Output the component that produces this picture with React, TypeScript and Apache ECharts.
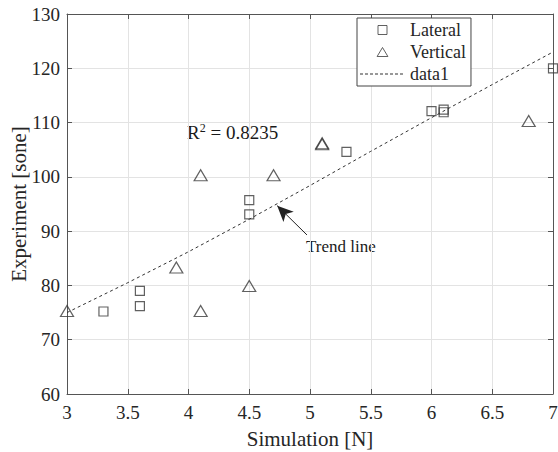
import React, { useEffect, useRef } from "react";
import * as echarts from "echarts";

const lateralX = [3.3, 3.6, 3.6, 4.5, 4.5, 5.3, 6.0, 6.1, 6.1, 7.0];
const lateralY = [75.2, 76.2, 79.0, 93.1, 95.7, 104.6, 112.1, 111.9, 112.4, 120.0];

const verticalX = [3.0, 3.9, 4.1, 4.1, 4.5, 4.7, 5.1, 5.1, 6.8];
const verticalY = [75.3, 83.3, 75.3, 100.3, 79.9, 100.3, 106.0, 106.2, 110.3];

const trendX = [3, 3.5, 4, 4.5, 5, 5.5, 6, 6.5, 7];
const trendY = [75.0, 80.5, 86.2, 92.2, 98.4, 104.7, 110.9, 117.0, 123.0];

const xTicks = [3, 3.5, 4, 4.5, 5, 5.5, 6, 6.5, 7];
const yTicks = [60, 70, 80, 90, 100, 110, 120, 130];

const arrowTail = [4.975, 89.3];
const arrowHead = [4.73, 94.7];

const FONT = "Liberation Serif";
const AXIS = "#555555";
const MARK = "#3a3a3a";

const SQUARE_ICON = "path://M0,0h10v10h-10z";
const TRIANGLE_ICON = "path://M6,0L12,10L0,10Z";
const DASH_ICON =
  "path://" +
  Array.from({ length: 9 }, (_, i) => `M${i * 5},0h3v1h-3z`).join("") +
  "M45,0h0.01v1h-0.01z";

export default function App() {
  const ref = useRef<HTMLDivElement>(null);
  useEffect(() => {
    if (!ref.current) return;
    const chart = echarts.init(ref.current, null, { renderer: "svg" });
    const zip = (xs: number[], ys: number[]) => xs.map((x, i) => [x, ys[i]]);
    const baseX = {
      type: "value",
      min: xTicks[0],
      max: xTicks[xTicks.length - 1],
      interval: 0.5,
      axisLine: { show: true, lineStyle: { color: AXIS, width: 1 } },
      axisTick: { show: true, inside: true, length: 5, lineStyle: { color: AXIS } },
    };
    const baseY = {
      type: "value",
      min: yTicks[0],
      max: yTicks[yTicks.length - 1],
      interval: 10,
      axisLine: { show: true, lineStyle: { color: AXIS, width: 1 } },
      axisTick: { show: true, inside: true, length: 5, lineStyle: { color: AXIS } },
    };
    chart.setOption({
      animation: false,
      backgroundColor: "#ffffff",
      grid: {
        left: 67,
        top: 14,
        right: 5,
        bottom: 58,
        containLabel: false,
        outerBoundsMode: "none",
      },
      xAxis: [
        {
          ...baseX,
          position: "bottom",
          name: "Simulation [N]",
          nameLocation: "middle",
          nameGap: 34,
          nameMoveOverlap: false,
          nameTextStyle: { fontFamily: FONT, fontSize: 21, color: "#262626" },
          axisLabel: {
            fontFamily: FONT,
            fontSize: 19,
            color: "#262626",
            margin: 9,
            formatter: (v: number) => String(v),
          },
          splitLine: { show: true, lineStyle: { color: "#e3e3e3", width: 1 } },
        },
        {
          ...baseX,
          position: "top",
          axisLabel: { show: false },
          splitLine: { show: false },
        },
      ],
      yAxis: [
        {
          ...baseY,
          position: "left",
          name: "Experiment [sone]",
          nameLocation: "middle",
          nameGap: 38,
          nameMoveOverlap: false,
          nameTextStyle: { fontFamily: FONT, fontSize: 21, color: "#262626" },
          axisLabel: { fontFamily: FONT, fontSize: 19, color: "#262626", margin: 7 },
          splitLine: { show: true, lineStyle: { color: "#e3e3e3", width: 1 } },
        },
        {
          ...baseY,
          position: "right",
          axisLabel: { show: false },
          splitLine: { show: false },
        },
      ],
      legend: {
        orient: "vertical",
        left: 357,
        top: 18,
        borderColor: "#444",
        borderWidth: 1,
        backgroundColor: "#ffffff",
        padding: [3, 5, 3, 3],
        itemWidth: 45,
        itemHeight: 9,
        itemGap: 4,
        symbolKeepAspect: true,
        textStyle: { fontFamily: FONT, fontSize: 18, color: "#262626" },
        data: [
          {
            name: "Lateral",
            icon: SQUARE_ICON,
            itemStyle: { color: "rgba(0,0,0,0)", borderColor: MARK, borderWidth: 1 },
          },
          {
            name: "Vertical",
            icon: TRIANGLE_ICON,
            itemStyle: { color: "rgba(0,0,0,0)", borderColor: MARK, borderWidth: 1 },
          },
          {
            name: "data1",
            icon: DASH_ICON,
            itemStyle: { color: "#333", borderWidth: 0 },
          },
        ],
      },
      series: [
        {
          name: "data1",
          type: "line",
          data: zip(trendX, trendY),
          symbol: "none",
          smooth: false,
          lineStyle: { color: "#333", width: 1, type: [3, 3] },
          itemStyle: { color: "#333" },
          markLine: {
            silent: true,
            symbol: ["none", "arrow"],
            symbolSize: [11, 16],
            label: { show: false },
            lineStyle: { color: "#222", width: 1, type: "solid" },
            data: [[{ coord: arrowTail }, { coord: arrowHead }]],
          },
          z: 2,
        },
        {
          name: "Lateral",
          type: "scatter",
          data: zip(lateralX, lateralY),
          symbol: "rect",
          symbolSize: 9,
          itemStyle: { color: "rgba(0,0,0,0)", borderColor: MARK, borderWidth: 1.2 },
          z: 3,
        },
        {
          name: "Vertical",
          type: "scatter",
          data: zip(verticalX, verticalY),
          symbol: "triangle",
          symbolSize: [13, 11],
          itemStyle: { color: "rgba(0,0,0,0)", borderColor: MARK, borderWidth: 1.2 },
          z: 3,
        },
      ],
      graphic: [
        {
          type: "text",
          left: 187,
          top: 122,
          style: {
            text: "{a|R}{s|2}{a| = 0.8235}",
            fill: "#1a1a1a",
            rich: {
              a: { fontFamily: FONT, fontSize: 19, fill: "#1a1a1a", verticalAlign: "bottom", lineHeight: 20 },
              s: { fontFamily: FONT, fontSize: 12, fill: "#1a1a1a", verticalAlign: "top", lineHeight: 20, padding: [0, 0, 8, 0] },
            },
          },
        },
        {
          type: "text",
          left: 306,
          top: 238,
          style: { text: "Trend line", fontFamily: FONT, fontSize: 17, fill: "#1a1a1a" },
        },
      ],
    });
    return () => chart.dispose();
  }, []);
  return <div ref={ref} style={{ width: 558, height: 452, position: "absolute", left: 0, top: 0 }} />;
}
